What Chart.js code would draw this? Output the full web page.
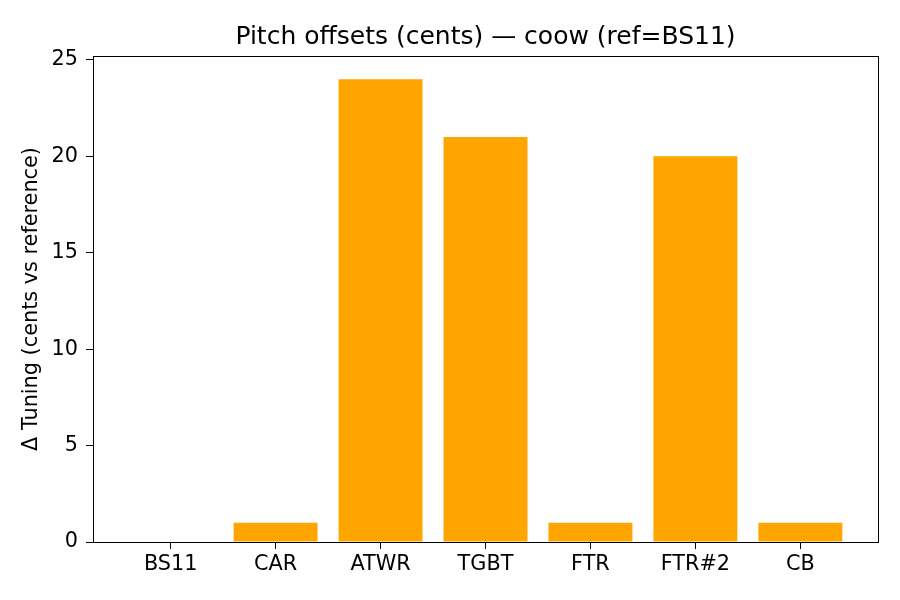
<!DOCTYPE html>
<html lang="en">
<head>
  <meta charset="UTF-8" />
  <title>Pitch offsets</title>
  <script src="https://cdn.jsdelivr.net/npm/chart.js"></script>
  <style>
    html, body { margin: 0; padding: 0; background: #fff; }
    #wrap { width: 900px; height: 600px; }
  </style>
</head>
<body>
  <div id="wrap"><canvas id="chart" width="900" height="600"></canvas></div>
  <script>
    const tracks = ['BS11', 'CAR', 'ATWR', 'TGBT', 'FTR', 'FTR#2', 'CB'];
    const offsets = [0, 1, 24, 21, 1, 20, 1];
    const yTicks = [0, 5, 10, 15, 20, 25];
    const chartTitle = 'Pitch offsets (cents) \u2014 coow (ref=BS11)';

    const FONT = 'DejaVu Sans';

    // spines on all four sides + title centred over the axes, like matplotlib
    const frame = {
      id: 'frame',
      afterDraw(chart) {
        const { ctx, chartArea: a } = chart;
        ctx.save();
        ctx.strokeStyle = '#000';
        ctx.lineWidth = 1;
        ctx.strokeRect(Math.round(a.left) + 0.5, Math.round(a.top) + 0.5,
          Math.round(a.right - a.left), Math.round(a.bottom - a.top));
        ctx.fillStyle = '#000';
        ctx.font = '25px "' + FONT + '"';
        ctx.textAlign = 'center';
        ctx.textBaseline = 'alphabetic';
        ctx.fillText(chartTitle, (a.left + a.right) / 2, 44);
        ctx.restore();
      }
    };

    new Chart(document.getElementById('chart'), {
      type: 'bar',
      data: {
        datasets: [{
          data: offsets.map((v, i) => ({ x: i, y: v })),
          backgroundColor: '#FFA500',
          borderWidth: 0,
          inflateAmount: 0,
          barPercentage: 0.8,
          categoryPercentage: 1.0
        }]
      },
      plugins: [frame],
      options: {
        responsive: false,
        animation: false,
        layout: { padding: { left: 0, right: 22, top: 56, bottom: 0 } },
        plugins: {
          legend: { display: false },
          tooltip: { enabled: false },
          title: { display: false }
        },
        scales: {
          x: {
            type: 'linear',
            min: -0.74,
            max: 6.74,
            offset: false,
            afterBuildTicks(scale) {
              scale.ticks = tracks.map((_, i) => ({ value: i }));
            },
            afterFit(scale) { scale.height = 58; },
            ticks: {
              color: '#000',
              font: { family: FONT, size: 20.8 },
              padding: 3,
              maxRotation: 0,
              autoSkip: false,
              callback: v => tracks[v]
            },
            grid: { offset: false, drawOnChartArea: false, tickLength: 7, color: '#000' },
            border: { color: '#000', width: 1 }
          },
          y: {
            min: 0,
            max: 25.2,
            afterBuildTicks(scale) {
              scale.ticks = yTicks.map(v => ({ value: v }));
            },
            afterFit(scale) { scale.width = 93; },
            title: {
              display: true,
              text: '\u0394 Tuning (cents vs reference)',
              color: '#000',
              font: { family: FONT, size: 20.8 },
              padding: { top: 19, bottom: 0 }
            },
            ticks: {
              color: '#000',
              font: { family: FONT, size: 20.8 },
              padding: 8
            },
            grid: { drawOnChartArea: false, tickLength: 7, color: '#000' },
            border: { color: '#000', width: 1 }
          }
        }
      }
    });
  </script>
</body>
</html>
